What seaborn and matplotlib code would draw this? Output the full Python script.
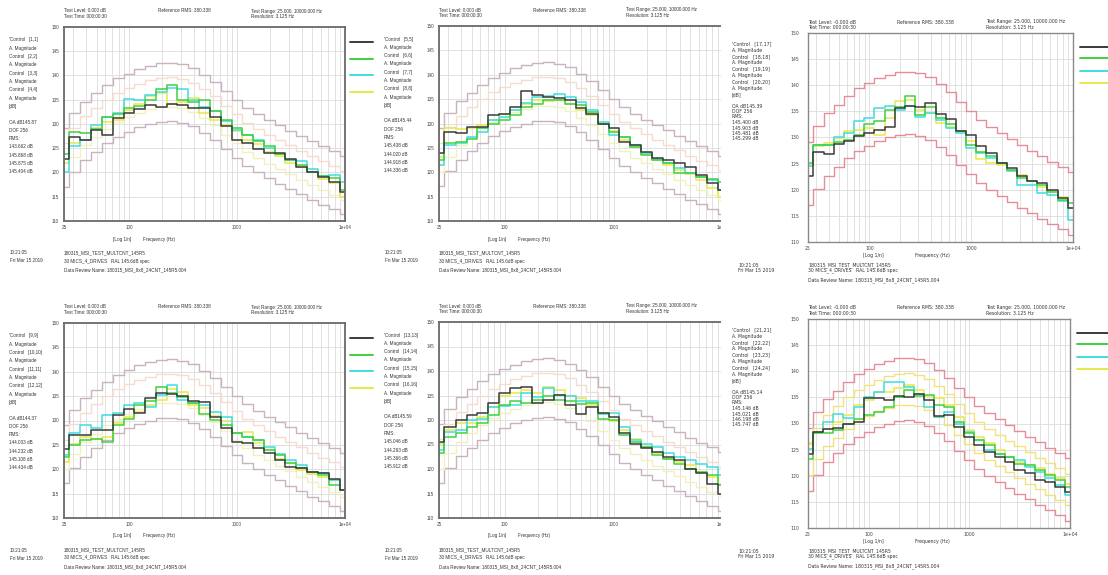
import numpy as np
import pandas as pd
import matplotlib
matplotlib.use("Agg")
import matplotlib.pyplot as plt
import seaborn as sns
from matplotlib.patches import Rectangle
from matplotlib.ticker import LogLocator, NullFormatter, FixedLocator, FixedFormatter

# ---------------- data ----------------
bands = [25, 31.5, 40, 50, 63, 80, 100, 125, 160, 200, 250, 315, 400, 500, 630,
         800, 1000, 1250, 1600, 2000, 2500, 3150, 4000, 5000, 6300, 8000, 10000]
ref_level = [123.1, 126.2, 128.6, 130.3, 132.0, 133.4, 134.4, 135.3, 136.0, 136.5, 136.6,
             136.3, 135.5, 134.2, 132.7, 130.8, 129.0, 127.3, 126.0, 124.8, 123.7, 122.6,
             121.5, 120.4, 119.4, 118.4, 117.4]
alarm_db = 3.0
abort_db = 6.0

x_ticks = [25, 100, 1000, 10000]
x_tick_labels = ["25", "100", "1000", "1e+04"]
y_ticks = [110, 115, 120, 125, 130, 135, 140, 145, 150]

# panel 1  (Control 1..4)
p1_k = [122.7, 127.4, 126.7, 128.8, 127.8, 131.2, 132.2, 133.1, 133.9, 133.6, 134.2, 134.0, 133.3, 133.3,
        131.4, 129.5, 126.7, 126.0, 124.9, 124.1, 124.1, 122.7, 121.2, 120.2, 119.0, 118.1, 115.9]
p1_g = [123.8, 128.4, 128.2, 128.9, 131.4, 132.1, 133.3, 133.8, 135.0, 137.2, 138.1, 135.0, 134.6, 135.0,
        132.6, 130.9, 129.1, 127.8, 126.4, 125.4, 123.8, 122.6, 121.6, 120.2, 119.2, 118.8, 116.4]
p1_c = [120.2, 125.4, 126.7, 129.8, 131.5, 132.2, 135.1, 135.0, 136.0, 136.7, 137.4, 137.2, 134.9, 133.6,
        132.6, 130.7, 128.8, 127.8, 126.7, 125.0, 123.8, 122.5, 122.3, 120.7, 119.2, 119.5, 118.1]
p1_y = [121.9, 126.0, 126.7, 129.1, 130.5, 130.9, 132.9, 134.2, 135.7, 136.4, 134.2, 134.6, 135.3, 132.2,
        130.9, 129.8, 128.5, 126.7, 125.9, 124.3, 123.3, 122.0, 121.1, 120.2, 118.6, 117.8, 115.0]

# panel 2  (Control 5..8)
p2_k = [123.9, 128.3, 128.0, 129.3, 129.3, 131.7, 132.0, 133.3, 136.7, 135.8, 135.5, 135.3, 134.8, 133.1,
        132.0, 130.0, 129.0, 126.2, 125.6, 124.2, 123.0, 122.5, 121.8, 121.1, 119.4, 117.7, 116.3]
p2_g = [122.5, 125.9, 126.2, 126.9, 129.0, 130.0, 130.7, 131.7, 133.4, 134.1, 134.8, 134.9, 134.1, 133.8,
        132.4, 130.0, 128.3, 127.3, 125.2, 123.5, 122.5, 121.8, 119.8, 119.8, 119.1, 118.7, 118.1]
p2_c = [121.5, 125.6, 125.9, 127.3, 128.3, 130.7, 131.4, 132.7, 134.2, 135.5, 135.6, 136.1, 135.5, 134.4,
        132.7, 130.3, 127.6, 127.3, 125.6, 124.0, 122.8, 121.9, 120.8, 119.8, 119.1, 118.4, 116.3]
p2_y = [123.2, 129.0, 128.8, 129.0, 129.7, 130.7, 132.0, 132.7, 134.1, 134.8, 134.6, 134.8, 133.9, 132.7,
        131.7, 129.9, 128.5, 126.7, 125.2, 123.7, 122.6, 121.5, 120.4, 119.6, 118.4, 116.7, 115.0]

# panel 3  (Control 17..20)
p3_k = [122.6, 127.2, 126.9, 128.8, 129.3, 130.2, 130.9, 131.4, 132.0, 135.6, 136.0, 135.8, 136.6, 134.5,
        133.5, 131.2, 130.5, 128.3, 127.0, 125.1, 124.2, 122.6, 121.6, 121.2, 120.0, 118.4, 116.5]
p3_g = [125.1, 128.6, 128.6, 129.1, 129.6, 130.5, 132.5, 133.1, 135.3, 135.8, 137.9, 134.4, 135.8, 133.7,
        132.5, 131.2, 128.6, 127.3, 126.4, 125.1, 123.8, 122.2, 121.6, 121.0, 119.5, 118.1, 117.5]
p3_c = [124.5, 128.6, 128.6, 130.1, 130.9, 133.1, 133.7, 135.6, 136.0, 135.3, 136.1, 134.0, 134.7, 133.4,
        131.8, 130.9, 128.0, 127.0, 126.1, 125.1, 123.5, 121.0, 121.0, 119.4, 119.0, 117.8, 114.3]
p3_y = [124.8, 128.3, 128.9, 129.9, 131.2, 131.5, 131.8, 130.5, 133.7, 136.9, 137.2, 135.3, 134.7, 132.8,
        132.1, 131.2, 129.3, 125.8, 125.1, 124.8, 123.8, 122.9, 121.6, 120.6, 119.7, 118.7, 116.5]

# panel 4  (Control 9..12)
p4_k = [124.1, 127.0, 127.0, 128.0, 128.0, 131.1, 132.4, 131.6, 134.6, 135.6, 135.5, 135.0, 133.9, 133.7,
        130.8, 128.4, 125.6, 125.3, 124.4, 123.4, 122.0, 120.5, 120.2, 119.5, 119.3, 118.1, 115.8]
p4_g = [122.6, 125.0, 126.0, 126.3, 125.6, 129.1, 130.4, 133.2, 133.9, 136.8, 135.6, 134.9, 133.5, 131.3,
        130.1, 129.1, 127.4, 126.7, 126.0, 123.9, 122.9, 121.2, 120.2, 119.5, 118.8, 116.7, 115.7]
p4_c = [122.9, 127.4, 129.1, 128.4, 131.1, 131.5, 133.2, 133.5, 132.8, 135.2, 137.3, 134.2, 133.5, 133.2,
        131.8, 130.8, 127.4, 126.7, 126.1, 124.6, 123.2, 121.9, 120.8, 119.5, 119.3, 117.8, 115.8]
p4_y = [121.5, 125.2, 126.7, 126.3, 126.7, 129.4, 130.8, 131.8, 133.2, 134.2, 136.4, 135.9, 133.2, 132.5,
        130.9, 129.8, 127.5, 127.7, 125.3, 123.9, 122.2, 121.2, 119.8, 119.1, 118.4, 117.8, 115.7]

# panel 5  (Control 13..16)
p5_k = [125.6, 128.6, 130.0, 131.0, 131.4, 133.4, 135.5, 136.5, 136.7, 133.4, 134.1, 135.1, 133.1, 131.2,
        132.7, 131.4, 130.7, 127.3, 125.2, 124.2, 123.5, 122.5, 121.8, 120.1, 119.1, 117.0, 115.0]
p5_g = [123.2, 126.6, 127.3, 128.6, 129.3, 131.0, 133.1, 133.8, 133.4, 134.1, 134.8, 134.1, 133.8, 133.3,
        133.4, 130.3, 130.1, 126.9, 125.6, 124.4, 122.8, 122.1, 121.1, 120.1, 119.4, 118.7, 116.7]
p5_c = [123.9, 127.6, 128.0, 130.0, 130.3, 132.7, 132.9, 133.1, 135.5, 134.6, 136.5, 135.1, 134.9, 133.8,
        133.8, 131.2, 131.4, 128.6, 125.9, 125.2, 124.4, 123.2, 122.5, 121.8, 121.1, 120.4, 118.7]
p5_y = [125.2, 128.0, 129.3, 129.3, 130.7, 132.7, 134.8, 135.5, 136.1, 135.5, 136.8, 136.1, 134.9, 134.4,
        133.1, 131.4, 129.7, 128.0, 126.2, 124.5, 123.2, 122.1, 121.5, 120.8, 119.4, 118.4, 117.0]

# panel 6  (Control 21..24)
p6_k = [124.2, 128.4, 129.0, 129.2, 130.0, 130.3, 134.8, 134.8, 134.5, 135.2, 135.0, 135.7, 134.5, 131.4,
        131.6, 129.4, 127.4, 125.8, 124.6, 123.6, 122.7, 121.1, 120.5, 119.1, 118.8, 117.9, 116.9]
p6_g = [123.3, 128.1, 128.1, 128.7, 130.0, 130.9, 131.6, 132.2, 133.2, 135.1, 136.4, 135.2, 135.4, 133.5,
        133.2, 130.3, 128.1, 126.8, 125.8, 124.2, 123.6, 122.3, 122.0, 121.1, 120.1, 119.1, 117.9]
p6_c = [125.2, 128.4, 130.3, 131.9, 131.0, 133.2, 135.1, 136.1, 138.0, 138.0, 137.0, 135.7, 133.2, 131.3,
        132.2, 130.0, 128.4, 126.8, 125.0, 124.2, 123.6, 123.0, 121.7, 120.7, 119.5, 118.2, 116.3]
p6_y = [126.2, 128.4, 129.0, 130.3, 131.6, 133.5, 134.5, 136.1, 136.1, 136.7, 137.3, 136.4, 135.2, 134.8,
        133.5, 131.3, 128.8, 127.4, 126.2, 124.9, 123.6, 122.7, 122.0, 121.4, 120.4, 119.5, 118.5]

oa_values = ["145.87", "145.44", "145.39", "144.37", "145.59", "145.14"]
rms_p1 = ["143.662", "145.868", "145.875", "145.404"]
rms_p2 = ["145.438", "144.020", "144.918", "144.336"]
rms_p3 = ["145.400", "145.903", "145.481", "145.299"]
rms_p4 = ["144.033", "144.232", "145.108", "144.434"]
rms_p5 = ["145.046", "144.293", "145.366", "145.912"]
rms_p6 = ["145.146", "145.021", "146.198", "145.747"]
control_ids = [[1, 2, 3, 4], [5, 6, 7, 8], [17, 18, 19, 20],
               [9, 10, 11, 12], [13, 14, 15, 16], [21, 22, 23, 24]]

# ---------------- style ----------------
sns.set_theme(style="white")
plt.rcParams["font.family"] = ["Liberation Sans", "DejaVu Sans"]

W, H = 1108, 575
fig = plt.figure(figsize=(W / 100, H / 100), dpi=100)
fig.patch.set_facecolor("white")

TRACE_COLORS = {"k": "#3a3a3a", "g": "#3fd13f", "c": "#3fdde0", "y": "#e8e84a"}
TXT = "#333333"

edges = [bands[0]] + [float(np.sqrt(bands[i - 1] * bands[i])) for i in range(1, len(bands))] + [bands[-1]]


def step_frame(series):
    rows = []
    for name, vals in series:
        vv = list(vals) + [vals[-1]]
        for x, v in zip(edges, vv):
            rows.append({"freq": x, "dB": v, "trace": name})
    return pd.DataFrame(rows)


def px_to_fig(x, y):
    return x / W, 1 - y / H


def ftext(x, y, s, size, z=3, family=None, color=TXT):
    fx, fy = px_to_fig(x, y)
    kw = {}
    if family:
        kw["family"] = family
    fig.text(fx, fy, s, fontsize=size, color=color, va="center", ha="left", zorder=z, **kw)


def panel(box, traces, idx, big=False, limit_style="gray", legend=True):
    l, t, r, b = box
    ax = fig.add_axes([l / W, 1 - b / H, (r - l) / W, (b - t) / H])
    ax.set_facecolor("white")
    ax.set_zorder(1 if big else 0)
    ax.set_xscale("log")

    ref = np.array(ref_level)
    lims = [("abort_hi", ref + abort_db), ("abort_lo", ref - abort_db)]
    if limit_style == "gray":
        lims += [("alarm_hi", ref + alarm_db), ("alarm_lo", ref - alarm_db)]
        lpal = {"abort_hi": "#c9b3bd", "abort_lo": "#c9b3bd", "alarm_hi": "#f5dccd", "alarm_lo": "#f2f0bd"}
    elif limit_style == "red_yellow":
        lims += [("alarm_hi", ref + alarm_db), ("alarm_lo", ref - alarm_db)]
        lpal = {"abort_hi": "#e68d9b", "abort_lo": "#e68d9b", "alarm_hi": "#f2e27e", "alarm_lo": "#f2e27e"}
    else:
        lpal = {"abort_hi": "#e68d9b", "abort_lo": "#e68d9b"}
    ldf = step_frame([(n, list(v)) for n, v in lims])
    sns.lineplot(data=ldf, x="freq", y="dB", hue="trace", palette=lpal, drawstyle="steps-post",
                 estimator=None, sort=False, legend=False, ax=ax, linewidth=1.0)

    tdf = step_frame(traces)
    sns.lineplot(data=tdf, x="freq", y="dB", hue="trace", palette=TRACE_COLORS,
                 hue_order=["y", "c", "g", "k"], drawstyle="steps-post",
                 estimator=None, sort=False, legend=False, ax=ax, linewidth=1.1)

    ax.set_xlim(25, 10000)
    ax.set_ylim(110, 150)
    ax.xaxis.set_major_locator(FixedLocator(x_ticks))
    ax.xaxis.set_major_formatter(FixedFormatter(x_tick_labels))
    ax.xaxis.set_minor_locator(LogLocator(base=10, subs=np.arange(2, 10)))
    ax.xaxis.set_minor_formatter(NullFormatter())
    ax.set_yticks(y_ticks)
    ax.set_yticklabels([str(v) for v in y_ticks])
    ax.grid(True, which="both", axis="x", color="#dcdcdc", linewidth=0.6)
    ax.grid(True, which="major", axis="y", color="#dcdcdc", linewidth=0.6)
    ax.set_axisbelow(True)
    fam = "DejaVu Sans" if big else None
    fs = 3.3 if big else 3.3
    ax.tick_params(axis="both", which="both", length=0, labelsize=fs, labelcolor="#444444")
    ax.tick_params(axis="y", pad=6.0 if big else 3.6)
    ax.tick_params(axis="x", pad=2.8 if big else 3.2)
    if big:
        for lab in ax.get_xticklabels() + ax.get_yticklabels():
            lab.set_family("DejaVu Sans")
    ax.set_xlabel("")
    ax.set_ylabel("")
    for s in ax.spines.values():
        s.set_visible(True)
        s.set_color("#6a6a6a" if not big else "#8a8a8a")
        s.set_linewidth(1.3 if not big else 1.0)

    ids = control_ids[idx]
    rms = [rms_p1, rms_p2, rms_p3, rms_p4, rms_p5, rms_p6][idx]
    z = 4 if big else 3
    if big:
        hx = [l, l + 89, l + 178]
        hy1, hy2 = t - 11, t - 5.8
        lx, ly0, lstep = l - 76, t + 11, 6.3
        sy0, sstep = t + 73, 5.5
        legx0, legx1 = r + 7, 1108
        legy = [t + 14, t + 25, t + 38, t + 50]
        xl_y = b + 13.5
        xl1, xl2 = l + 55, l + 107
        bx_time = l - 70
        by1, by2, by3 = b + 23.5, b + 28.5, b + 38
    else:
        hx = [l, l + 94, l + 187]
        hy1, hy2 = t - 16, t - 10.5
        lx, ly0, lstep = l - 55, t + 13, 8.3
        sy0, sstep = t + 95, 8.3
        legx0, legx1 = r + 5, r + 28
        legy = [t + 15, t + 32, t + 48, t + 65]
        xl_y = b + 18
        xl1, xl2 = l + 49, l + 79
        bx_time = l - 54
        by1, by2, by3 = b + 32, b + 40, b + 49

    lvl = "-0.000 dB" if big else "0.000 dB"
    ftext(hx[0], hy1, f"Test Level: {lvl}", fs, z, fam)
    ftext(hx[0], hy2, "Test Time: 000:00:30", fs, z, fam)
    ftext(hx[1], hy1, "Reference RMS: 380.338", fs, z, fam)
    ftext(hx[2], hy1, "Test Range: 25.000, 10000.000 Hz", fs, z, fam)
    ftext(hx[2], hy2, "Resolution: 3.125 Hz", fs, z, fam)

    lines = []
    for k, cid in enumerate(ids):
        lines.append(("'Control" if k == 0 else "Control") + f"   [{cid},{cid}]")
        lines.append("A. Magnitude")
    lines.append("[dB]")
    for k, s in enumerate(lines):
        ftext(lx, ly0 + k * lstep, s, fs, z, fam)
    stats = [f"OA dB{oa_values[idx]}", "DOF 256", "RMS:"] + [f"{v} dB" for v in rms]
    for k, s in enumerate(stats):
        ftext(lx, sy0 + k * sstep, s, fs, z, fam)

    if legend:
        for yy, key in zip(legy, ["k", "g", "c", "y"]):
            fx0, fy = px_to_fig(legx0, yy)
            fx1, _ = px_to_fig(legx1, yy)
            fig.add_artist(plt.Line2D([fx0, fx1], [fy, fy], color=TRACE_COLORS[key],
                                      linewidth=1.4, zorder=z))

    ftext(xl1, xl_y, "[Log 1/n]", fs, z, fam)
    ftext(xl2, xl_y, "Frequency (Hz)", fs, z, fam)
    ftext(bx_time, by1, "10:21:05", fs, z, fam)
    ftext(bx_time, by2, "Fri Mar 15 2019", fs, z, fam)
    ftext(l, by1, "180315_MSI_TEST_MULTCNT_145R5", fs, z, fam)
    ftext(l, by2, "30 MICS_4_DRIVES   RAL 145.6dB spec", fs, z, fam)
    ftext(l, by3, "Data Review Name: 180315_MSI_8x8_24CNT_145R5.004", fs, z, fam)
    return ax


def tr(k, g, c, y):
    return [("k", k), ("g", g), ("c", c), ("y", y)]


panel((64, 27, 345, 221), tr(p1_k, p1_g, p1_c, p1_y), 0)
panel((439, 26, 723, 221), tr(p2_k, p2_g, p2_c, p2_y), 1, legend=False)
panel((64, 323, 345, 518), tr(p4_k, p4_g, p4_c, p4_y), 3)
panel((439, 322, 723, 518), tr(p5_k, p5_g, p5_c, p5_y), 4, legend=False)

# white sheet of the right-hand captures, lying over the middle column's right edge
fig.add_artist(Rectangle((720.5 / W, 0), 1 - 720.5 / W, 1, transform=fig.transFigure,
                         facecolor="white", edgecolor="none", zorder=0.5))

panel((808, 33, 1073, 242), tr(p3_k, p3_g, p3_c, p3_y), 2, big=True, limit_style="red")
panel((808, 319, 1070, 528), tr(p6_k, p6_g, p6_c, p6_y), 5, big=True, limit_style="red_yellow")

fig.savefig("out.png", dpi=100, facecolor="white")
